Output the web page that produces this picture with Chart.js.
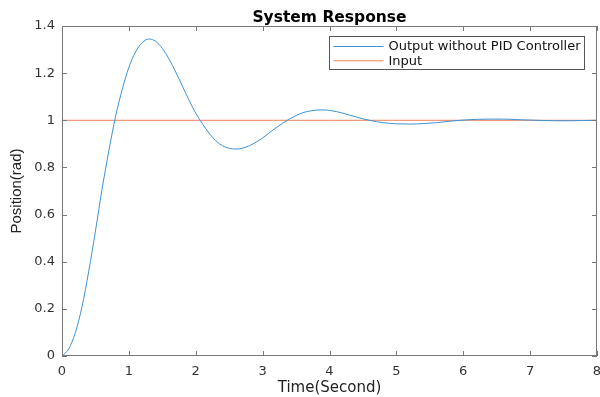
<!DOCTYPE html>
<html>
<head>
<meta charset="utf-8">
<script src="https://cdn.jsdelivr.net/npm/chart.js@4.4.0/dist/chart.umd.min.js"></script>
<style>
  html, body { margin: 0; padding: 0; background: #fff; }
  #wrap { width: 600px; height: 397px; }
</style>
</head>
<body>
<div id="wrap"><canvas id="chart"></canvas></div>
<script>
// values
const timeS = [0, 0.1, 0.2, 0.3, 0.4, 0.5, 0.6, 0.7, 0.8, 0.9,
  1.0, 1.1, 1.2, 1.3, 1.4, 1.5, 1.6, 1.7, 1.8, 1.9,
  2.0, 2.1, 2.2, 2.3, 2.4, 2.5, 2.6, 2.7, 2.8, 2.9,
  3.0, 3.1, 3.2, 3.3, 3.4, 3.5, 3.6, 3.7, 3.8, 3.9,
  4.0, 4.1, 4.2, 4.3, 4.4, 4.5, 4.6, 4.7, 4.8, 4.9,
  5.0, 5.2, 5.4, 5.6, 5.8, 6.0, 6.2, 6.4, 6.6, 6.8,
  7.0, 7.2, 7.4, 7.6, 7.8, 8.0];
const outputNoPid = [0, 0.03, 0.10, 0.21, 0.36, 0.53, 0.71, 0.87, 1.015, 1.13,
  1.225, 1.29, 1.33, 1.345, 1.335, 1.305, 1.26, 1.205, 1.145, 1.085,
  1.03, 0.985, 0.945, 0.913, 0.892, 0.881, 0.878, 0.882, 0.892, 0.907,
  0.925, 0.947, 0.968, 0.988, 1.005, 1.02, 1.032, 1.039, 1.043, 1.044,
  1.042, 1.037, 1.03, 1.022, 1.014, 1.006, 1.0, 0.994, 0.99, 0.987,
  0.985, 0.984, 0.986, 0.99, 0.996, 1.001, 1.004, 1.005, 1.005, 1.003,
  1.001, 0.999, 0.998, 0.998, 0.999, 1.0];
const inputTime = [0, 8];
const inputVals = [1, 1];

const xTicks = [0, 1, 2, 3, 4, 5, 6, 7, 8];
const yTicks = [0, 0.2, 0.4, 0.6, 0.8, 1, 1.2, 1.4];

const chartTitle = "System Response";
const axisGray = "#777777";
const textGray = "#333333";
const wideFont = "'DejaVu Sans', sans-serif";

// box + inward ticks on all four sides, like the matlab axes
const frame = {
  id: "frame",
  afterDraw(chart) {
    const { ctx, chartArea: a, scales } = chart;
    ctx.save();
    ctx.strokeStyle = axisGray;
    ctx.lineWidth = 1;
    ctx.strokeRect(a.left + 0.5, a.top + 0.5, a.right - a.left - 1, a.bottom - a.top - 1);
    ctx.beginPath();
    xTicks.forEach((v) => {
      const px = Math.round(scales.x.getPixelForValue(v)) + 0.5;
      ctx.moveTo(px, a.bottom); ctx.lineTo(px, a.bottom - 5);
      ctx.moveTo(px, a.top); ctx.lineTo(px, a.top + 5);
    });
    yTicks.forEach((v) => {
      const py = Math.round(scales.y.getPixelForValue(v)) + 0.5;
      ctx.moveTo(a.left, py); ctx.lineTo(a.left + 5, py);
      ctx.moveTo(a.right, py); ctx.lineTo(a.right - 5, py);
    });
    ctx.stroke();

    // title centred over the axes, not the whole canvas
    ctx.fillStyle = "#000";
    ctx.font = "bold 15.5px " + wideFont;
    ctx.textAlign = "center";
    ctx.textBaseline = "alphabetic";
    ctx.fillText(chartTitle, (a.left + a.right) / 2, a.top - 4);
    ctx.restore();
  },
};

// legend box inside the plot, top right
const boxLegend = {
  id: "boxLegend",
  afterDraw(chart) {
    const { ctx, chartArea: a } = chart;
    const w = 255, h = 33;
    const x0 = Math.round(a.right - 13 - w) + 0.5;
    const y0 = Math.round(a.top + 10) + 0.5;
    ctx.save();
    ctx.fillStyle = "#fff";
    ctx.fillRect(x0, y0, w, h);
    ctx.strokeStyle = "#555";
    ctx.lineWidth = 1;
    ctx.strokeRect(x0, y0, w, h);
    ctx.font = "13px " + wideFont;
    ctx.textBaseline = "middle";
    ctx.fillStyle = "#111";
    chart.data.datasets.forEach((ds, i) => {
      const yy = y0 + 10 + i * 14.3;
      ctx.strokeStyle = ds.borderColor;
      ctx.beginPath();
      ctx.moveTo(x0 + 4, yy);
      ctx.lineTo(x0 + 54, yy);
      ctx.stroke();
      ctx.fillText(ds.label, x0 + 59, yy + 0.5);
    });
    ctx.restore();
  },
};

new Chart(document.getElementById("chart"), {
  type: "line",
  data: {
    datasets: [
      {
        label: "Output without PID Controller",
        data: timeS.map((t, i) => ({ x: t, y: outputNoPid[i] })),
        borderColor: "#3d92d5",
        borderWidth: 1,
        pointRadius: 0,
        cubicInterpolationMode: "monotone",
      },
      {
        label: "Input",
        data: inputTime.map((t, i) => ({ x: t, y: inputVals[i] })),
        borderColor: "#ec8159",
        borderWidth: 1,
        pointRadius: 0,
      },
    ],
  },
  options: {
    responsive: true,
    maintainAspectRatio: false,
    animation: false,
    layout: { padding: { left: 0, right: 3, top: 26, bottom: 0 } },
    plugins: {
      legend: { display: false },
      tooltip: { enabled: false },
      title: { display: false },
    },
    scales: {
      x: {
        type: "linear",
        min: 0,
        max: 8,
        afterBuildTicks: (s) => { s.ticks = xTicks.map((v) => ({ value: v })); },
        afterFit: (s) => { s.height = 41; s.paddingLeft = 0; s.paddingRight = 0; },
        grid: { display: false, drawTicks: false, tickLength: 0 },
        border: { display: false },
        ticks: {
          color: textGray,
          padding: 8,
          maxRotation: 0,
          font: { family: wideFont, size: 13 },
        },
        title: {
          display: true,
          text: "Time(Second)",
          color: "#222",
          font: { family: wideFont, size: 15 },
          padding: { top: 0, bottom: 0 },
        },
      },
      y: {
        min: 0,
        max: 1.4,
        afterBuildTicks: (s) => { s.ticks = yTicks.map((v) => ({ value: v })); },
        afterFit: (s) => { s.width = 62; s.paddingTop = 0; s.paddingBottom = 0; },
        grid: { display: false, drawTicks: false, tickLength: 0 },
        border: { display: false },
        ticks: {
          color: textGray,
          padding: 7,
          font: { family: wideFont, size: 13 },
          callback: (v) => String(Math.round(v * 10) / 10),
        },
        title: {
          display: true,
          text: "Position(rad)",
          color: "#222",
          font: { family: "'Liberation Sans', Arial, sans-serif", size: 15 },
          padding: { top: 8, bottom: 0 },
        },
      },
    },
  },
  plugins: [frame, boxLegend],
});
</script>
</body>
</html>
